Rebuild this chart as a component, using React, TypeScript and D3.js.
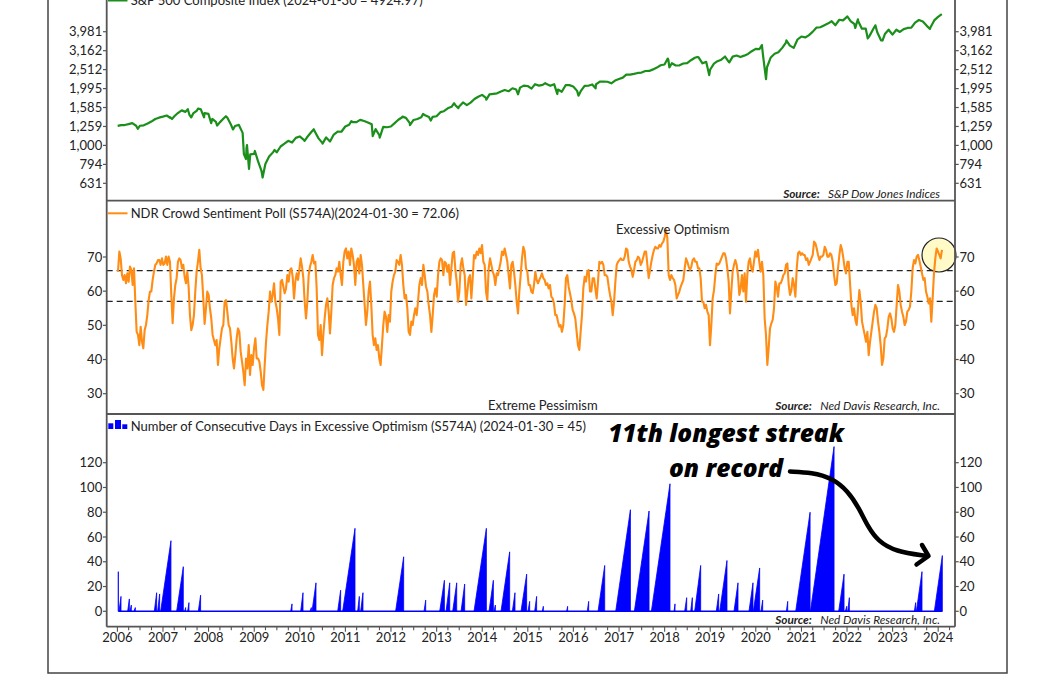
import React from "react";
import * as d3 from "d3";

// ---------------- DATA ----------------
// S&P 500 month-end closes, Jan 2006 .. Dec 2023
const SPX_FIRST_MONTH = [2006, 0];
const SPX_MONTHLY = [
  1280, 1281, 1295, 1311, 1270, 1270, 1277, 1304, 1336, 1378, 1401, 1418,
  1438, 1407, 1421, 1482, 1531, 1503, 1455, 1474, 1527, 1549, 1481, 1468,
  1379, 1331, 1323, 1386, 1400, 1280, 1267, 1283, 1165, 969, 896, 903,
  826, 735, 798, 873, 919, 919, 987, 1021, 1057, 1036, 1096, 1115,
  1074, 1104, 1169, 1187, 1089, 1031, 1102, 1049, 1141, 1183, 1181, 1258,
  1286, 1327, 1326, 1364, 1345, 1321, 1292, 1219, 1131, 1253, 1247, 1258,
  1312, 1366, 1408, 1398, 1310, 1362, 1379, 1407, 1441, 1412, 1416, 1426,
  1498, 1515, 1569, 1598, 1631, 1606, 1686, 1633, 1682, 1757, 1806, 1848,
  1783, 1859, 1872, 1884, 1924, 1960, 1931, 2003, 1972, 2018, 2068, 2059,
  1995, 2105, 2068, 2086, 2107, 2063, 2104, 1972, 1920, 2079, 2080, 2044,
  1940, 1932, 2060, 2065, 2097, 2099, 2174, 2171, 2168, 2126, 2199, 2239,
  2279, 2364, 2363, 2384, 2412, 2423, 2470, 2472, 2519, 2575, 2648, 2674,
  2824, 2714, 2641, 2648, 2705, 2718, 2816, 2902, 2914, 2712, 2760, 2507,
  2704, 2784, 2834, 2946, 2752, 2942, 2980, 2926, 2977, 3038, 3141, 3231,
  3226, 2954, 2585, 2912, 3044, 3100, 3271, 3500, 3363, 3270, 3622, 3756,
  3714, 3811, 3973, 4181, 4204, 4298, 4395, 4523, 4308, 4605, 4567, 4766,
  4516, 4374, 4530, 4132, 4132, 3785, 4130, 3955, 3586, 3872, 4080, 3840,
  4077, 3970, 4109, 4169, 4180, 4450, 4589, 4508, 4288, 4194, 4568, 4770,
];
// intra-month highs / lows and the latest reading
const SPX_INTRAMONTH: [string, number][] = [
  ["2006-01-03", 1269], ["2006-06-13", 1223], ["2007-02-27", 1399], ["2007-03-14", 1377],
  ["2007-07-19", 1553], ["2007-08-15", 1406], ["2007-10-09", 1565], ["2007-11-26", 1407],
  ["2008-01-22", 1310], ["2008-03-10", 1273], ["2008-05-19", 1426], ["2008-07-15", 1214],
  ["2008-10-10", 899], ["2008-10-27", 848], ["2008-11-04", 1005], ["2008-11-20", 752],
  ["2009-01-06", 935], ["2009-03-09", 677], ["2009-06-12", 946], ["2010-02-08", 1056],
  ["2010-04-23", 1217], ["2010-07-02", 1022], ["2011-02-18", 1343], ["2011-04-29", 1364],
  ["2011-08-08", 1119], ["2011-10-03", 1099], ["2012-04-02", 1419], ["2012-06-01", 1278],
  ["2012-09-14", 1466], ["2012-11-15", 1353], ["2013-05-21", 1669], ["2013-06-24", 1573],
  ["2014-02-03", 1742], ["2014-10-15", 1862], ["2015-05-21", 2131], ["2015-08-25", 1867],
  ["2016-02-11", 1829], ["2016-06-27", 2001], ["2018-01-26", 2873], ["2018-02-08", 2581],
  ["2018-09-20", 2931], ["2018-12-24", 2351], ["2019-06-03", 2744], ["2020-02-19", 3386],
  ["2020-03-23", 2237], ["2020-09-02", 3580], ["2022-01-03", 4797], ["2022-03-08", 4171],
  ["2022-03-29", 4632], ["2022-06-16", 3667], ["2022-08-16", 4305], ["2022-10-12", 3577],
  ["2023-10-27", 4117], ["2024-01-30", 4925],
];

// NDR Crowd Sentiment Poll, regular samples (decimal-year start, step in years)
const SENT_START_YEAR = 2006.013;
const SENT_STEP_YEARS = 0.02924;
const SENT_VALUES = [
  65.7,71.6,69.6,64.7,63.3,64.7,62.3,65.2,62.8,67.2,66.2,61.8,66.7,56.9,48.1,47.2,44.2,49.6,45.2,43.3,
  48.6,50.1,53.0,57.4,59.9,59.9,63.3,65.7,67.7,68.1,69.1,69.1,67.7,69.6,67.7,68.1,70.1,67.7,70.1,68.6,
  58.9,50.6,57.9,61.8,63.8,68.6,69.6,69.1,66.7,67.7,64.2,62.3,65.7,61.3,53.0,48.6,50.1,53.0,59.9,65.7,
  68.6,72.1,66.7,64.7,57.9,50.4,55.0,59.9,58.9,55.0,52.0,47.2,45.7,44.2,45.7,38.4,43.3,46.2,49.1,50.1,
  56.9,57.4,54.0,50.1,49.1,45.2,40.3,37.4,41.3,46.2,49.1,48.1,42.3,39.4,36.4,32.5,40.3,37.4,44.2,35.5,
  41.3,38.4,43.3,46.2,40.3,40.3,39.4,36.4,32.5,31.1,38.4,45.2,50.1,54.0,59.9,56.9,58.9,62.3,56.9,55.0,
  52.0,47.2,62.8,63.3,61.3,59.4,60.8,64.7,62.8,66.2,66.7,64.2,57.9,62.8,65.2,63.3,66.2,69.6,67.2,63.8,
  56.9,52.0,56.9,64.7,67.2,68.6,70.6,68.1,68.6,60.8,
  47.2,45.7,50.1,41.3,47.2,52.0,56.0,57.9,54.0,47.6,54.0,61.8,63.8,64.7,66.7,65.7,68.6,64.7,61.8,68.6,
  71.6,72.5,69.6,71.6,67.7,72.5,70.6,67.7,61.8,68.6,69.6,65.2,70.6,67.7,61.8,56.0,50.1,54.0,59.9,62.8,
  56.0,47.2,44.2,46.2,42.8,44.2,40.3,38.4,44.2,50.1,54.0,52.5,48.1,53.0,51.1,59.9,62.8,64.7,65.7,69.1,
  68.6,67.7,70.6,67.7,61.8,57.9,58.9,55.0,48.1,47.2,51.1,50.1,53.0,55.0,53.0,56.9,61.8,63.8,61.8,67.7,
  64.7,61.3,59.9,56.0,53.0,48.1,53.0,58.9,60.8,58.4,64.7,68.6,69.6,69.1,64.7,68.6,68.1,65.7,67.7,61.8,
  66.7,71.1,71.6,66.2,62.8,56.9,59.9,67.7,69.6,66.7,64.7,56.0,59.9,63.8,64.7,57.9,63.8,70.6,69.6,71.6,
  70.6,72.5,71.1,73.5,68.6,67.7,59.9,57.4,66.7,69.6,67.7,65.7,64.7,61.8,65.2,64.7,66.7,68.6,71.6,70.6,
  72.5,70.6,68.6,64.7,60.8,67.7,68.6,65.7,61.8,56.9,53.5,59.9,64.7,69.6,73.0,71.6,66.7,65.7,61.8,
  61.8,59.9,59.4,61.8,65.7,63.3,62.3,63.3,64.2,65.2,63.8,63.3,61.8,62.3,60.8,61.8,58.4,57.9,56.4,53.0,
  53.0,51.1,49.6,50.1,48.1,50.1,56.0,63.8,64.7,61.3,59.4,57.4,54.5,53.5,52.0,48.1,44.2,42.8,48.1,53.0,
  60.8,64.2,62.8,65.7,66.2,59.9,59.9,63.8,63.8,60.8,57.9,62.8,68.6,68.1,68.6,67.7,64.7,64.7,64.2,61.3,
  58.9,56.9,53.0,56.9,62.8,67.7,68.6,69.1,69.6,69.1,69.1,70.1,72.5,72.1,68.6,67.2,66.2,64.2,66.2,68.6,
  69.1,70.1,69.6,67.7,68.6,70.1,71.6,71.6,67.7,63.8,66.2,68.6,70.6,72.1,73.0,72.5,72.5,73.5,73.0,74.0,
  74.5,75.9,77.9,75.5,64.7,63.3,64.7,63.8,63.3,61.8,57.9,58.9,59.9,61.3,62.3,63.3,66.7,69.6,68.6,67.2,
  66.2,67.2,69.1,69.6,68.6,68.6,66.7,66.7,63.8,56.9,56.9,55.0,56.0,54.0,53.0,44.2,50.1,57.9,60.3,64.7,
  68.1,67.7,68.1,69.1,70.1,71.1,71.1,69.6,66.7,62.8,53.5,59.9,65.7,67.7,69.1,67.7,64.7,58.9,60.8,
  64.7,59.9,65.2,56.9,64.7,68.6,69.6,66.7,65.7,68.6,71.6,70.1,72.1,68.6,65.7,68.6,64.7,52.0,47.2,38.4,
  43.3,49.1,50.6,51.6,55.0,62.8,61.3,58.4,62.3,62.3,63.3,64.7,65.2,67.7,68.1,61.8,58.9,60.3,63.8,61.8,
  58.4,66.7,71.1,71.6,70.6,71.1,70.6,70.6,69.1,69.6,67.7,68.6,69.6,70.6,74.5,74.0,72.5,70.6,69.1,70.1,
  70.1,70.6,73.0,72.1,70.1,70.1,71.1,70.6,68.6,64.7,61.8,62.3,66.7,70.6,73.5,72.1,69.6,66.7,65.2,68.6,
  68.6,62.3,56.0,53.0,55.0,51.6,50.1,55.0,60.3,56.9,51.1,49.1,47.2,45.2,48.1,41.3,45.2,48.1,51.1,54.0,
  56.0,55.0,51.1,48.1,44.2,38.4,40.3,46.2,46.7,49.1,52.5,53.5,52.0,49.1,48.1,50.1,56.0,61.8,59.9,56.0,
  54.0,52.5,50.1,51.1,54.0,54.5,55.5,59.9,66.7,69.1,68.1,70.1,70.6,69.1,67.2,65.2,63.3,63.8,59.9,58.4,
  56.4,57.9,51.1,57.9,65.2,69.6,72.5,71.6,70.6,69.6,72.1,
];
const SENT_UPPER = 66;
const SENT_LOWER = 57;

// Streaks of consecutive days in excessive optimism: [start year, end year, days at end]
const STREAKS: [number, number, number][] = [
  [2006.02, 2006.02, 32], [2006.035, 2006.079, 12], [2006.225, 2006.262, 10], [2006.276, 2006.305, 5],
  [2006.364, 2006.393, 3], [2006.81, 2006.861, 15], [2006.883, 2006.927, 14], [2006.949, 2007.175, 57],
  [2007.3, 2007.446, 36], [2007.475, 2007.497, 3], [2007.541, 2007.57, 7], [2007.775, 2007.826, 13],
  [2009.8, 2009.829, 6], [2010.019, 2010.07, 15], [2010.224, 2010.253, 3], [2010.268, 2010.355, 23],
  [2010.831, 2010.896, 17], [2010.94, 2011.211, 67], [2011.269, 2011.306, 12], [2011.335, 2011.386, 15],
  [2012.102, 2012.278, 44], [2012.724, 2012.76, 9], [2013.067, 2013.17, 25], [2013.206, 2013.287, 23],
  [2013.352, 2013.44, 23], [2013.535, 2013.615, 22], [2013.82, 2014.091, 67], [2014.149, 2014.244, 25],
  [2014.259, 2014.288, 5], [2014.412, 2014.602, 48], [2014.661, 2014.719, 15], [2014.851, 2014.975, 30],
  [2015.004, 2015.041, 8], [2015.151, 2015.194, 12], [2015.319, 2015.341, 4], [2015.852, 2015.874, 4],
  [2016.305, 2016.335, 8], [2016.54, 2016.686, 37], [2016.927, 2017.249, 82], [2017.336, 2017.658, 81],
  [2017.709, 2018.118, 103], [2018.206, 2018.228, 6], [2018.44, 2018.484, 11], [2018.572, 2018.608, 11],
  [2018.659, 2018.791, 37], [2019.134, 2019.186, 14], [2019.208, 2019.368, 41], [2019.522, 2019.61, 23],
  [2019.851, 2019.939, 23], [2019.946, 2020.085, 35], [2020.114, 2020.151, 9], [2020.67, 2020.699, 8],
  [2020.874, 2021.189, 80], [2021.196, 2021.715, 133], [2021.817, 2021.934, 30], [2021.963, 2021.993, 4],
  [2022.015, 2022.051, 11], [2023.477, 2023.506, 7], [2023.521, 2023.645, 32], [2023.916, 2024.091, 45],
];

const SPX_TICKS = [631, 794, 1000, 1259, 1585, 1995, 2512, 3162, 3981];
const SENT_TICKS = [30, 40, 50, 60, 70];
const STREAK_TICKS = [0, 20, 40, 60, 80, 100, 120];
const YEAR_LABELS = d3.range(2006, 2025);

// ---------------- LAYOUT ----------------
const W = 1056, H = 675;
const PL = 106.7, PR = 955;
const P1T = -12.6, P1B = 200.7, P2B = 414, P3B = 626.7;
const FONT = "Lato, 'Open Sans', sans-serif";
const AXIS_COL = "#555";
const TXT = "#222";

function decYear(y: number): Date {
  const yr = Math.floor(y);
  const a = +new Date(yr, 0, 1), b = +new Date(yr + 1, 0, 1);
  return new Date(a + (y - yr) * (b - a));
}

export default function App() {
  const x = d3.scaleTime().domain([decYear(2005.765), decYear(2024.368)]).range([PL, PR]);
  const yS = d3.scaleLog().domain([510.8, 6822]).range([P1B, P1T]);
  const yM = d3.scaleLinear().domain([24.06, 86.47]).range([P2B, P1B]);
  const yB = d3.scaleLinear().domain([-12.44, 159.33]).range([P3B, P2B]);

  const parse = d3.timeParse("%Y-%m-%d");
  const spx: { d: Date; v: number }[] = SPX_MONTHLY.map((v, i) => ({
    d: new Date(SPX_FIRST_MONTH[0], SPX_FIRST_MONTH[1] + i + 1, 0),
    v,
  }));
  SPX_INTRAMONTH.forEach(([s, v]) => spx.push({ d: parse(s) as Date, v }));
  spx.sort((a, b) => +a.d - +b.d);

  const spxLine = d3.line<{ d: Date; v: number }>().x((p) => x(p.d)).y((p) => yS(p.v))(spx) || "";

  const sent = SENT_VALUES.map((v, i) => ({ d: decYear(SENT_START_YEAR + i * SENT_STEP_YEARS), v }));
  const sentLine = d3.line<{ d: Date; v: number }>().x((p) => x(p.d)).y((p) => yM(p.v))(sent) || "";

  const area = d3
    .area<{ d: Date; v: number }>()
    .x((p) => x(p.d))
    .y0(yB(0))
    .y1((p) => yB(p.v));
  const streakPaths = STREAKS.map(([s, e, pk]) =>
    area([{ d: decYear(s), v: 0 }, { d: decYear(e), v: pk }]) || ""
  );

  const quarterTicks = x.ticks(d3.timeMonth.every(3) as any);

  const arrowPts: [number, number][] = [
    [790, 471.5], [812, 472.5], [832, 478], [848, 491], [859, 508], [868, 527],
    [878, 541], [895, 551.5], [927, 556],
  ];
  const arrowPath = d3.line().curve(d3.curveBasis)(arrowPts) || "";

  const yTickLabels = (
    scale: (v: number) => number,
    ticks: number[],
    fmt: (v: number) => string
  ) =>
    ticks.map((t) => (
      <g key={t}>
        <line x1={PL - 3.7} x2={PL} y1={scale(t)} y2={scale(t)} stroke={AXIS_COL} strokeWidth={1.2} />
        <line x1={PR} x2={PR + 3.7} y1={scale(t)} y2={scale(t)} stroke={AXIS_COL} strokeWidth={1.2} />
        <text x={PL - 4.5} y={scale(t)} dy="0.35em" textAnchor="end" fontSize={13} fill={TXT}>
          {fmt(t)}
        </text>
        <text x={PR + 4.5} y={scale(t)} dy="0.35em" textAnchor="start" fontSize={13} fill={TXT}>
          {fmt(t)}
        </text>
      </g>
    ));

  const fmtComma = d3.format(",");
  const fmtInt = d3.format("d");

  const source = (yBase: number, who: string) => (
    <text x={940} y={yBase} textAnchor="end" fontSize={11.8} fontStyle="italic" fill={TXT}>
      <tspan fontWeight="bold">Source:</tspan>
      <tspan>{"\u00a0\u00a0 " + who}</tspan>
    </text>
  );

  return (
    <svg
      width={W}
      height={H}
      style={{ position: "absolute", left: 0, top: 0, background: "#fff", display: "block" }}
      fontFamily={FONT}
    >
      {/* outer frame */}
      <rect x={48} y={-40} width={1007 - 48} height={673 + 40} fill="none" stroke="#444" strokeWidth={1.5} />

      {/* ---------- top panel: S&P 500 ---------- */}
      <path d={spxLine} fill="none" stroke="#1a8f1a" strokeWidth={2.2} strokeLinejoin="round" />
      {yTickLabels((v) => yS(v), SPX_TICKS, fmtComma)}
      <line x1={108} x2={127.5} y1={0.5} y2={0.5} stroke="#1a8f1a" strokeWidth={2} />
      <text x={130.7} y={5} fontSize={13} fill={TXT}>
        S&amp;P 500 Composite Index (2024-01-30 = 4924.97)
      </text>
      {source(197.5, "S&P Dow Jones Indices")}

      {/* ---------- middle panel: sentiment ---------- */}
      {[SENT_UPPER, SENT_LOWER].map((v) => (
        <line key={v} x1={PL} x2={PR} y1={yM(v)} y2={yM(v)} stroke="#222" strokeWidth={1.3} strokeDasharray="6,4" />
      ))}
      <circle cx={939} cy={255} r={17} fill="#fffac8" stroke="#222" strokeWidth={1.2} />
      <path d={sentLine} fill="none" stroke="#ff8c14" strokeWidth={2.1} strokeLinejoin="round" />
      {yTickLabels((v) => yM(v), SENT_TICKS, fmtInt)}
      <line x1={108} x2={127.5} y1={213.3} y2={213.3} stroke="#ff8c14" strokeWidth={2} />
      <text x={130.7} y={218} fontSize={13} fill={TXT}>
        NDR Crowd Sentiment Poll (S574A)(2024-01-30 = 72.06)
      </text>
      <text x={616} y={234} fontSize={13} fill={TXT}>Excessive Optimism</text>
      <text x={488} y={410} fontSize={13} fill={TXT}>Extreme Pessimism</text>
      {source(410, "Ned Davis Research, Inc.")}

      {/* ---------- bottom panel: streaks ---------- */}
      <line
        x1={x(decYear(STREAKS[0][0]))}
        x2={x(decYear(STREAKS[STREAKS.length - 1][1]))}
        y1={yB(0)}
        y2={yB(0)}
        stroke="#0000ff"
        strokeWidth={1.5}
      />
      {streakPaths.map((p, i) => (
        <path key={i} d={p} fill="#0000ff" stroke="#0000ff" strokeWidth={0.8} strokeLinejoin="miter" />
      ))}
      {yTickLabels((v) => yB(v), STREAK_TICKS, fmtInt)}
      <rect x={108.3} y={423.3} width={5} height={5.7} fill="#0000ff" />
      <rect x={115} y={420} width={6} height={9} fill="#0000ff" />
      <rect x={122.3} y={424.3} width={5} height={4.7} fill="#0000ff" />
      <text x={130.7} y={431.3} fontSize={13} fill={TXT}>
        Number of Consecutive Days in Excessive Optimism (S574A) (2024-01-30 = 45)
      </text>
      {source(623.5, "Ned Davis Research, Inc.")}

      {/* ---------- x axis ---------- */}
      {quarterTicks.map((d, i) => (
        <line
          key={i}
          x1={x(d)}
          x2={x(d)}
          y1={P3B}
          y2={P3B + (d.getMonth() === 0 ? 5 : 3.5)}
          stroke={AXIS_COL}
          strokeWidth={1.1}
        />
      ))}
      {YEAR_LABELS.map((yr) => (
        <text key={yr} x={x(new Date(yr, 0, 1))} y={642} textAnchor="middle" fontSize={13} fill={TXT}>
          {yr}
        </text>
      ))}

      {/* ---------- plot frame ---------- */}
      <line x1={PL} x2={PL} y1={-20} y2={P3B} stroke={AXIS_COL} strokeWidth={1.8} />
      <line x1={PR} x2={PR} y1={-20} y2={P3B} stroke={AXIS_COL} strokeWidth={1.8} />
      {[P1B, P2B, P3B].map((yy) => (
        <line key={yy} x1={PL} x2={PR} y1={yy} y2={yy} stroke={AXIS_COL} strokeWidth={1.8} />
      ))}

      {/* ---------- annotation ---------- */}
      <text
        x={726}
        y={441.7}
        textAnchor="middle"
        fontFamily="'Open Sans', sans-serif"
        fontWeight={800}
        fontStyle="italic"
        fontSize={24.5}
        fill="#000"
      >
        11th longest streak
      </text>
      <text
        x={726}
        y={476.7}
        textAnchor="middle"
        fontFamily="'Open Sans', sans-serif"
        fontWeight={800}
        fontStyle="italic"
        fontSize={24.5}
        fill="#000"
      >
        on record
      </text>
      <path d={arrowPath} fill="none" stroke="#000" strokeWidth={4.5} strokeLinecap="round" />
      <polyline
        points="922,545 928.5,556 916.5,564.5"
        fill="none"
        stroke="#000"
        strokeWidth={4.5}
        strokeLinecap="round"
        strokeLinejoin="round"
      />
    </svg>
  );
}
